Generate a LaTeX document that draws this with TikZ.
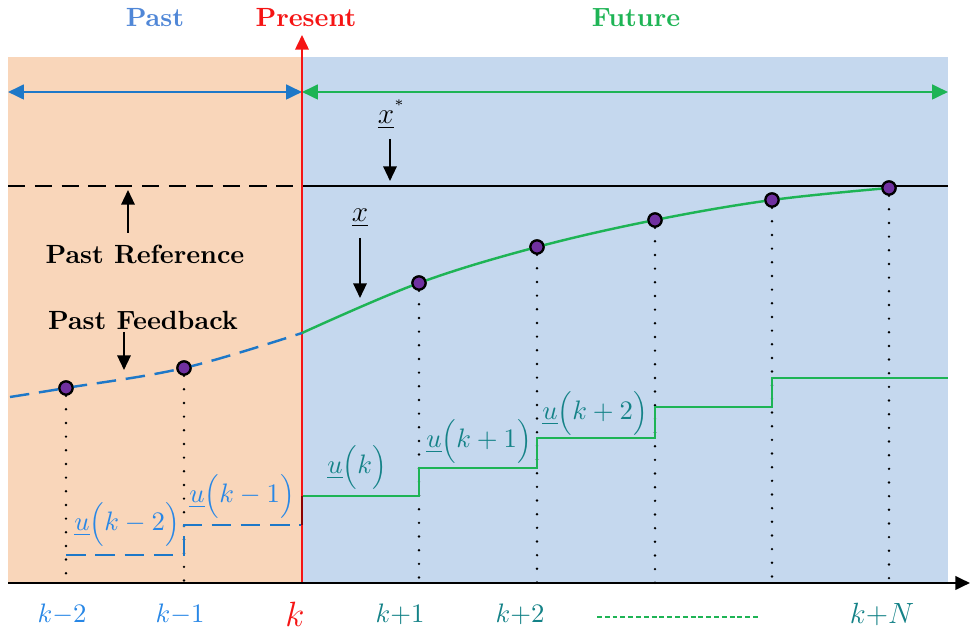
\documentclass[tikz,border=0pt]{standalone}
\usetikzlibrary{arrows.meta}
\definecolor{orangebg}{RGB}{249,214,186}
\definecolor{bluebg}{RGB}{197,216,238}
\definecolor{pastblue}{RGB}{30,120,200}
\definecolor{titleblue}{RGB}{80,135,215}
\definecolor{ublue}{RGB}{40,135,230}
\definecolor{fgreen}{RGB}{30,180,85}
\definecolor{fteal}{RGB}{20,130,135}
\definecolor{dotpurple}{RGB}{112,48,160}
\definecolor{pred}{RGB}{245,20,20}
\begin{document}
\begin{tikzpicture}[x=0.41pt,y=-0.41pt,
  tip/.style={-{Triangle[length=6pt,width=5.5pt]}},
  dtip/.style={{Triangle[length=6.5pt,width=6pt]}-{Triangle[length=6.5pt,width=6pt]}},
  sdot/.style={circle,draw=black,fill=dotpurple,line width=0.9pt,inner sep=0pt,minimum size=5.4pt},
  vdots/.style={line width=1.1pt,line cap=round,dash pattern=on 0pt off 5.6pt},
  pastdash/.style={pastblue,line width=1pt,dash pattern=on 8pt off 4pt},
  title/.style={font=\fontsize{10.8}{13}\selectfont\bfseries},
  lbl/.style={font=\fontsize{10.8}{13}\selectfont\bfseries},
  ulab/.style={inner sep=0pt,font=\fontsize{10.6}{13}\selectfont},
  tick/.style={inner sep=0pt,font=\fontsize{10.5}{13}\selectfont}]
\useasboundingbox (0,0) rectangle (970,632);
% backgrounds
\fill[orangebg] (8,57) rectangle (302,583);
\fill[bluebg] (302,57) rectangle (948,583);
% titles
\node[title,text=titleblue] (tpast) at (155,18) {Past};
\node[title,text=pred] (tpres) at (306,18) {Present};
\node[title,text=fgreen] (tfut) at (636,18) {Future};
% horizon arrows
\coordinate (hl) at (8,92);
\coordinate (hm) at (302,92);
\coordinate (hr) at (948,92);
\draw[dtip,pastblue,line width=1pt] (hl) -- (hm);
\draw[dtip,fgreen,line width=1pt] (hm) -- (hr);
% reference
\coordinate (rl) at (8,186);
\coordinate (rm) at (302,186);
\coordinate (rr) at (948,186);
\draw[black,line width=0.8pt,dash pattern=on 7pt off 4pt] (rl) -- (rm);
\draw[black,line width=0.8pt] (rm) -- (rr);
% sample points
\coordinate (c0) at (10,397);
\coordinate (ck) at (302,333);
\node[sdot] (p1) at (66,388) {};
\node[sdot] (p2) at (184,368) {};
\node[sdot] (p3) at (419,283) {};
\node[sdot] (p4) at (537,247) {};
\node[sdot] (p5) at (655,220) {};
\node[sdot] (p6) at (772,200) {};
\node[sdot] (p7) at (889,188) {};
% axis
\coordinate (a0) at (8,583);
\coordinate (a1) at (970,583);
% dotted verticals
\foreach \p/\x in {p1/66,p2/184,p3/419,p4/537,p5/655,p6/772,p7/889}{
  \coordinate (b\p) at (\x,583);
  \draw[vdots] (\p.south) -- (b\p);
}
% past input
\coordinate (q1) at (66,555);
\coordinate (q2) at (184,555);
\coordinate (q3) at (184,525);
\coordinate (q4) at (302,525);
\coordinate (q5) at (302,496);
\draw[pastdash] (q1) -- (q2) -- (q3) -- (q4);
% future input
\coordinate (f1) at (419,496);
\coordinate (f2) at (419,468);
\coordinate (f3) at (537,468);
\coordinate (f4) at (537,438);
\coordinate (f5) at (655,438);
\coordinate (f6) at (655,407);
\coordinate (f7) at (772,407);
\coordinate (f8) at (772,378);
\coordinate (f9) at (948,378);
\draw[fgreen,line width=1pt] (q5) -- (f1) -- (f2) -- (f3) -- (f4) -- (f5) -- (f6) -- (f7) -- (f8) -- (f9);
% present line
\draw[tip,pred,line width=0.9pt] (a0 -| ck) -- (302,35);
\draw[red!55!black,line width=1pt] (q4) -- (q5);
% trajectory
\draw[pastdash] plot[smooth,tension=0.6] coordinates {(c0) (66,388) (184,368) (302,333)};
\draw[fgreen,line width=1pt] plot[smooth,tension=0.6] coordinates {(302,333) (419,283) (537,247) (655,220) (772,200) (889,188)};
\foreach \p in {p1,p2,p3,p4,p5,p6,p7}{\node[sdot] at (\p) {};}
% axis line
\draw[tip,black,line width=1pt] (a0) -- (a1);
% annotations
\node[font=\large] (xs) at (392,114) {$\underline{x}^{^{*}}$};
\coordinate (xsa) at (390,139);
\coordinate (xsb) at (390,181);
\draw[tip,line width=0.8pt] (xsa) -- (xsb);
\node[font=\large] (xl) at (360,218) {$\underline{x}$};
\coordinate (xla) at (360,238);
\coordinate (xlb) at (360,298);
\draw[tip,line width=0.8pt] (xla) -- (xlb);
\node[lbl] (pref) at (145,254) {Past Reference};
\coordinate (pra) at (128,233);
\coordinate (prb) at (128,190);
\draw[tip,line width=0.8pt] (pra) -- (prb);
\node[lbl] (pfb) at (143,320) {Past Feedback};
\coordinate (pfa) at (124,332);
\coordinate (pfb2) at (124,370);
\draw[tip,line width=0.8pt] (pfa) -- (pfb2);
% input labels
\node[ulab,text=ublue] (u2) at (127,524) {$\underline{u}\Bigl(k-2\Bigr)$};
\node[ulab,text=ublue] (u1) at (242,496) {$\underline{u}\Bigl(k-1\Bigr)$};
\node[ulab,text=fteal] (u0) at (357,467) {$\underline{u}\Bigl(k\Bigr)$};
\node[ulab,text=fteal] (up1) at (479,441) {$\underline{u}\Bigl(k+1\Bigr)$};
\node[ulab,text=fteal] (up2) at (595,413) {$\underline{u}\Bigl(k+2\Bigr)$};
% tick labels
\node[tick,text=ublue] (t1) at (62,614) {$k{-}2$};
\node[tick,text=ublue] (t2) at (180,614) {$k{-}1$};
\node[tick,text=pred,font=\Large] (t3) at (295,614) {$k$};
\node[tick,text=fteal] (t4) at (400,614) {$k{+}1$};
\node[tick,text=fteal] (t5) at (520,614) {$k{+}2$};
\coordinate (g1) at (597,617);
\coordinate (g2) at (758,617);
\draw[fgreen,line width=0.8pt,dash pattern=on 2pt off 1.2pt] (g1) -- (g2);
\node[tick,text=fteal,font=\large] (t6) at (882,614) {$k{+}N$};
\end{tikzpicture}
\end{document}
